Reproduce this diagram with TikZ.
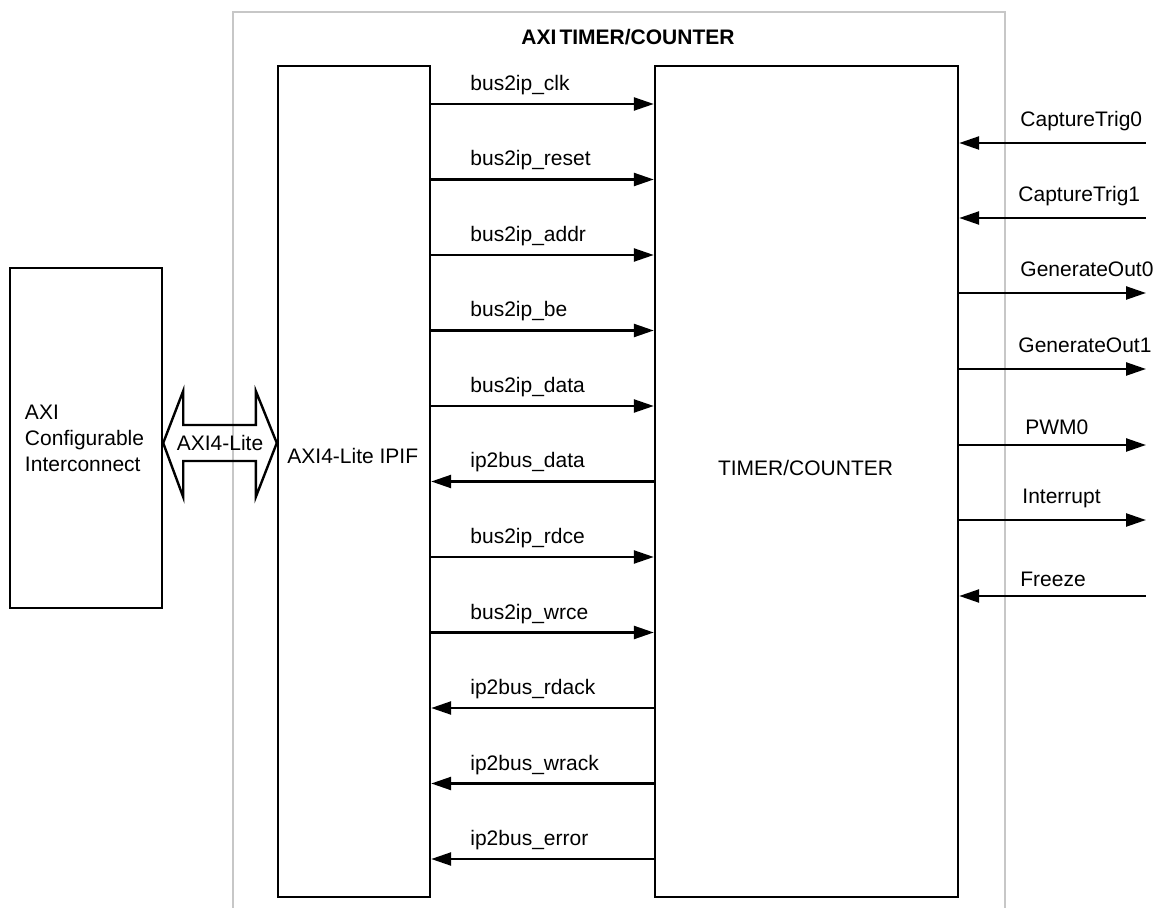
\documentclass[tikz,border=0pt]{standalone}
\usepackage{fontspec}
\setmainfont{Liberation Sans}
\usetikzlibrary{arrows.meta,positioning,calc}

\begin{document}
\begin{tikzpicture}[
  x=0.5pt, y=-0.5pt,
  >={Triangle[length=10pt,width=6.5pt]},
  every node/.style={font=\fontsize{10.5}{13}\selectfont},
  box/.style={draw,line width=1.2pt,minimum width=76pt,minimum height=415.5pt,inner sep=0pt},
  sig/.style={line width=1.2pt},
  lblL/.style={anchor=base west,inner sep=0pt,at start,xshift=19pt,yshift=6.75pt},
  lblR/.style={anchor=base west,inner sep=0pt,at start,xshift=30pt,yshift=8pt},
  frame/.style={draw=black!22,line width=0.6pt},
  busarrow/.style={draw,line width=1.2pt,line join=miter}
  ]
  \useasboundingbox (0,0) rectangle (1156,908);

  % core frame, open at the bottom
  \draw[frame] (233,908) |- (1005,12) -- (1005,908);
  \node[font=\fontsize{10.5}{13}\selectfont\bfseries,anchor=base] (title) at (628,45) {AXI\hspace{0.15em}TIMER/COUNTER};

  \node[box] (ipif) at (354,481.5) {};
  \node[box,minimum width=151.5pt] (timer) at (806.5,481.5) {};
  \node[box,minimum height=170pt,text width=61pt,align=left,inner xsep=7.5pt] (axi) at (86,438)
    {AXI\\Configurable\\Interconnect};

  \node[anchor=west,inner sep=0pt] (ipiftxt) at (287,456) {AXI4-Lite IPIF};
  \node (timertxt) at (805.5,468) {TIMER/COUNTER};

  % AXI4-Lite bus
  \coordinate (busy) at (0,443);
  \draw[busarrow] (axi.east |- busy) -- ++(20,-52) -- ++(0,34)
    -- ($(ipif.west |- busy)+(-21,-18)$) -- ++(0,-34) -- (ipif.west |- busy)
    -- ++(-21,54) -- ++(0,-36) -- ($(axi.east |- busy)+(20,18)$) -- ++(0,36) -- cycle;
  \node[inner sep=0pt] (buslbl) at (220,443) {AXI4-Lite};

  % IPIF <-> timer signals
  \coordinate (r1)  at (0,104);
  \coordinate (r2)  at (0,179.5);
  \coordinate (r3)  at (0,255);
  \coordinate (r4)  at (0,330.5);
  \coordinate (r5)  at (0,406);
  \coordinate (r6)  at (0,481.5);
  \coordinate (r7)  at (0,557);
  \coordinate (r8)  at (0,632.5);
  \coordinate (r9)  at (0,708);
  \coordinate (r10) at (0,783.5);
  \coordinate (r11) at (0,859);

  \draw[sig,->] (ipif.east |- r1)  -- node[lblL] (l1)  {bus2ip\_clk}    (timer.west |- r1);
  \draw[sig,->] (ipif.east |- r2)  -- node[lblL] (l2)  {bus2ip\_reset}  (timer.west |- r2);
  \draw[sig,->] (ipif.east |- r3)  -- node[lblL] (l3)  {bus2ip\_addr}   (timer.west |- r3);
  \draw[sig,->] (ipif.east |- r4)  -- node[lblL] (l4)  {bus2ip\_be}     (timer.west |- r4);
  \draw[sig,->] (ipif.east |- r5)  -- node[lblL] (l5)  {bus2ip\_data}   (timer.west |- r5);
  \draw[sig,<-] (ipif.east |- r6)  -- node[lblL] (l6)  {ip2bus\_data}   (timer.west |- r6);
  \draw[sig,->] (ipif.east |- r7)  -- node[lblL] (l7)  {bus2ip\_rdce}   (timer.west |- r7);
  \draw[sig,->] (ipif.east |- r8)  -- node[lblL] (l8)  {bus2ip\_wrce}   (timer.west |- r8);
  \draw[sig,<-] (ipif.east |- r9)  -- node[lblL] (l9)  {ip2bus\_rdack}  (timer.west |- r9);
  \draw[sig,<-] (ipif.east |- r10) -- node[lblL] (l10) {ip2bus\_wrack}  (timer.west |- r10);
  \draw[sig,<-] (ipif.east |- r11) -- node[lblL] (l11) {ip2bus\_error}  (timer.west |- r11);

  % external ports
  \coordinate (ct0) at (1146,143);
  \coordinate (ct1) at (1146,218);
  \coordinate (go0) at (1146,293);
  \coordinate (go1) at (1146,369);
  \coordinate (pwm) at (1146,445);
  \coordinate (irq) at (1146,520);
  \coordinate (frz) at (1146,596);

  \draw[sig,<-] (timer.east |- ct0) -- node[lblR] (lct0) {CaptureTrig0} (ct0);
  \draw[sig,<-] (timer.east |- ct1) -- node[lblR,xshift=-1pt] (lct1) {CaptureTrig1} (ct1);
  \draw[sig,->] (timer.east |- go0) -- node[lblR] (lgo0) {GenerateOut0} (go0);
  \draw[sig,->] (timer.east |- go1) -- node[lblR,xshift=-1pt] (lgo1) {GenerateOut1} (go1);
  \draw[sig,->] (timer.east |- pwm) -- node[lblR,xshift=2.5pt,yshift=-2.75pt] (lpwm) {PWM0} (pwm);
  \draw[sig,->] (timer.east |- irq) -- node[lblR,xshift=1pt] (lirq) {Interrupt} (irq);
  \draw[sig,<-] (timer.east |- frz) -- node[lblR,yshift=-3.25pt] (lfrz) {Freeze} (frz);
\end{tikzpicture}
\end{document}
